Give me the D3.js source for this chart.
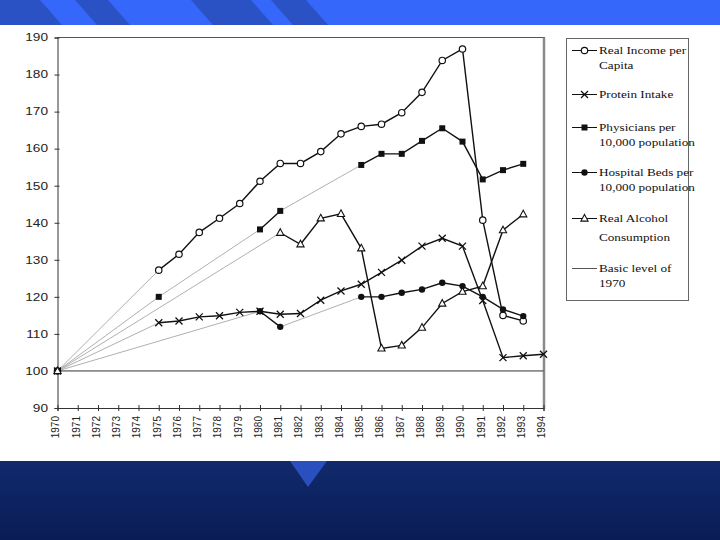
<!DOCTYPE html>
<html><head><meta charset="utf-8">
<script src="https://cdn.jsdelivr.net/npm/d3@7"></script>
<style>html,body{margin:0;padding:0;background:#fff;}svg{display:block;}</style>
</head><body>
<script>
// ---- data ----
const years = d3.range(1970, 1995);
const yTicks = [90,100,110,120,130,140,150,160,170,180,190];
const income     = [100,null,null,null,null,127.2,131.5,137.4,141.2,145.2,151.2,156,156,159.2,164,166,166.6,169.7,175.2,183.8,186.9,140.7,115,113.5,null];
const protein    = [100,null,null,null,null,113,113.5,114.6,114.9,115.8,116.1,115.3,115.5,119.1,121.6,123.4,126.6,129.9,133.7,135.8,133.7,119,103.6,104.1,104.5];
const physicians = [100,null,null,null,null,120,null,null,null,null,138.2,143.2,null,null,null,155.6,158.6,158.6,162.1,165.5,161.9,151.7,154.2,155.9,null];
const hospital   = [100,null,null,null,null,null,null,null,null,null,116.1,111.9,null,null,null,120,120,121.1,122,123.8,122.9,120,116.6,114.8,null];
const alcohol    = [100,null,null,null,null,null,null,null,null,null,null,137.3,134.2,141.2,142.4,133.1,106.1,106.9,111.7,118.2,121.4,122.9,138,142.3,null];
const legendLabels = [["Real Income per","Capita"],["Protein Intake"],["Physicians per","10,000 population"],["Hospital Beds per","10,000 population"],["Real Alcohol","Consumption"],["Basic level of","1970"]];

const W = 720, H = 540;
const svg = d3.select("body").append("svg").attr("width", W).attr("height", H);

// ---- slide decoration ----
svg.append("rect").attr("x",0).attr("y",0).attr("width",W).attr("height",25).attr("fill","#3567fb");
const stripes = [[-30,40],[75,108],[191,251],[271,306]];
stripes.forEach(s=>{
  svg.append("polygon").attr("points",`${s[0]},0 ${s[1]},0 ${s[1]+22},25 ${s[0]+22},25`).attr("fill","#2a52c4");
});
const defs = svg.append("defs");
const g1 = defs.append("linearGradient").attr("id","foot").attr("x1",0).attr("y1",0).attr("x2",0).attr("y2",1);
g1.append("stop").attr("offset","0%").attr("stop-color","#112a6c");
g1.append("stop").attr("offset","100%").attr("stop-color","#0a1c56");
svg.append("rect").attr("x",0).attr("y",461).attr("width",W).attr("height",H-461).attr("fill","url(#foot)");
svg.append("polygon").attr("points","290,461 327,461 308,487").attr("fill","#2a4fbf");

// ---- scales ----
const x = d3.scaleLinear().domain([1970,1994]).range([57.5,543.5]);
const y = d3.scaleLinear().domain([90,190]).range([408,37.5]);

// frame
svg.append("line").attr("x1",57.5).attr("x2",545).attr("y1",37.5).attr("y2",37.5).attr("stroke","#555").attr("stroke-width",1);
svg.append("line").attr("x1",544).attr("x2",544).attr("y1",37.5).attr("y2",409).attr("stroke","#8a8a8a").attr("stroke-width",2.5);
svg.append("line").attr("x1",x(1970)).attr("x2",x(1994)).attr("y1",y(100)).attr("y2",y(100)).attr("stroke","#333").attr("stroke-width",1);

// axes
const yAxis = svg.append("g").attr("transform",`translate(${x(1970)},0)`)
  .call(d3.axisLeft(y).tickValues(yTicks).tickSize(3).tickFormat(""));
yAxis.select(".domain").attr("stroke","#333");
yAxis.selectAll(".tick line").attr("stroke","#333").attr("x2",-3).attr("x1",2);
yTicks.forEach(v=>{
  svg.append("text").attr("transform",`translate(48,${y(v)+3.8}) scale(1.3,1)`)
    .attr("text-anchor","end").attr("font-family","Liberation Sans, Arial, sans-serif")
    .attr("font-size",10.5).attr("fill","#222").text(v);
});
const xAxis = svg.append("g").attr("transform",`translate(0,${y(90)})`)
  .call(d3.axisBottom(x).tickValues(years).tickSize(3).tickFormat(""));
xAxis.select(".domain").attr("stroke","#333");
xAxis.selectAll(".tick line").attr("stroke","#333").attr("y1",-3).attr("y2",3);
years.forEach(yr=>{
  svg.append("text").attr("transform",`translate(${x(yr)+1.8},416) rotate(-90)`)
    .attr("text-anchor","end").attr("font-family","Liberation Sans, Arial, sans-serif")
    .attr("font-size",10).attr("fill","#222").text(yr);
});

// ---- series ----
const series = [
  {vals: income, mark:"circle"},
  {vals: protein, mark:"x"},
  {vals: physicians, mark:"square"},
  {vals: hospital, mark:"dot"},
  {vals: alcohol, mark:"triangle"}
];
const pts = s => years.map((yr,i)=>({yr, v:s.vals[i]})).filter(d=>d.v!=null);

// grey "basic level" connectors across gaps
const gGrey = svg.append("g");
series.forEach(s=>{
  const p = pts(s);
  for (let i=1;i<p.length;i++){
    if (p[i].yr - p[i-1].yr > 1){
      gGrey.append("line").attr("x1",x(p[i-1].yr)).attr("y1",y(p[i-1].v))
        .attr("x2",x(p[i].yr)).attr("y2",y(p[i].v)).attr("stroke","#b0b0b0").attr("stroke-width",1);
    }
  }
});

// black lines
const line = d3.line().defined(d=>d.v!=null).x(d=>x(d.yr)).y(d=>y(d.v));
series.forEach(s=>{
  const data = years.map((yr,i)=>({yr, v:s.vals[i]}));
  svg.append("path").attr("d",line(data)).attr("fill","none").attr("stroke","#111").attr("stroke-width",1.4);
});

// markers
function drawMark(g, type, cx, cy){
  if (type==="circle") g.append("circle").attr("cx",cx).attr("cy",cy).attr("r",3.2).attr("fill","#fff").attr("stroke","#111").attr("stroke-width",1.2);
  else if (type==="dot") g.append("circle").attr("cx",cx).attr("cy",cy).attr("r",3.2).attr("fill","#111");
  else if (type==="square") g.append("rect").attr("x",cx-3).attr("y",cy-3).attr("width",6).attr("height",6).attr("fill","#111");
  else if (type==="triangle") g.append("path").attr("d",`M${cx},${cy-4}L${cx+3.6},${cy+2.6}L${cx-3.6},${cy+2.6}Z`).attr("fill","#fff").attr("stroke","#111").attr("stroke-width",1.1);
  else if (type==="x") g.append("path").attr("d",`M${cx-3.5},${cy-3.5}L${cx+3.5},${cy+3.5}M${cx-3.5},${cy+3.5}L${cx+3.5},${cy-3.5}`).attr("stroke","#111").attr("stroke-width",1.3);
}
const gm = svg.append("g");
series.forEach(s=> pts(s).forEach(d=> drawMark(gm, s.mark, x(d.yr), y(d.v))));

// ---- legend ----
svg.append("rect").attr("x",566.5).attr("y",38.5).attr("width",122).attr("height",262).attr("fill","#fff").attr("stroke","#666").attr("stroke-width",1);
const legY = [54,98,131,176,222,272];
const legMarks = ["circle","x","square","dot","triangle","none"];
legendLabels.forEach((lab,i)=>{
  const ly = legY[i]-3.5;
  svg.append("line").attr("x1",572).attr("x2",597).attr("y1",ly).attr("y2",ly).attr("stroke", i===5?"#555":"#111").attr("stroke-width",1);
  if (legMarks[i]!=="none") drawMark(svg, legMarks[i], 584.5, ly);
  lab.forEach((t,j)=>{
    svg.append("text").attr("transform",`translate(599,${legY[i]+j*(i===4?19:15)}) scale(1.2,1)`)
      .attr("font-family","Liberation Serif, Times New Roman, serif").attr("font-size",11)
      .attr("fill","#111").text(t);
  });
});
</script>
</body></html>
